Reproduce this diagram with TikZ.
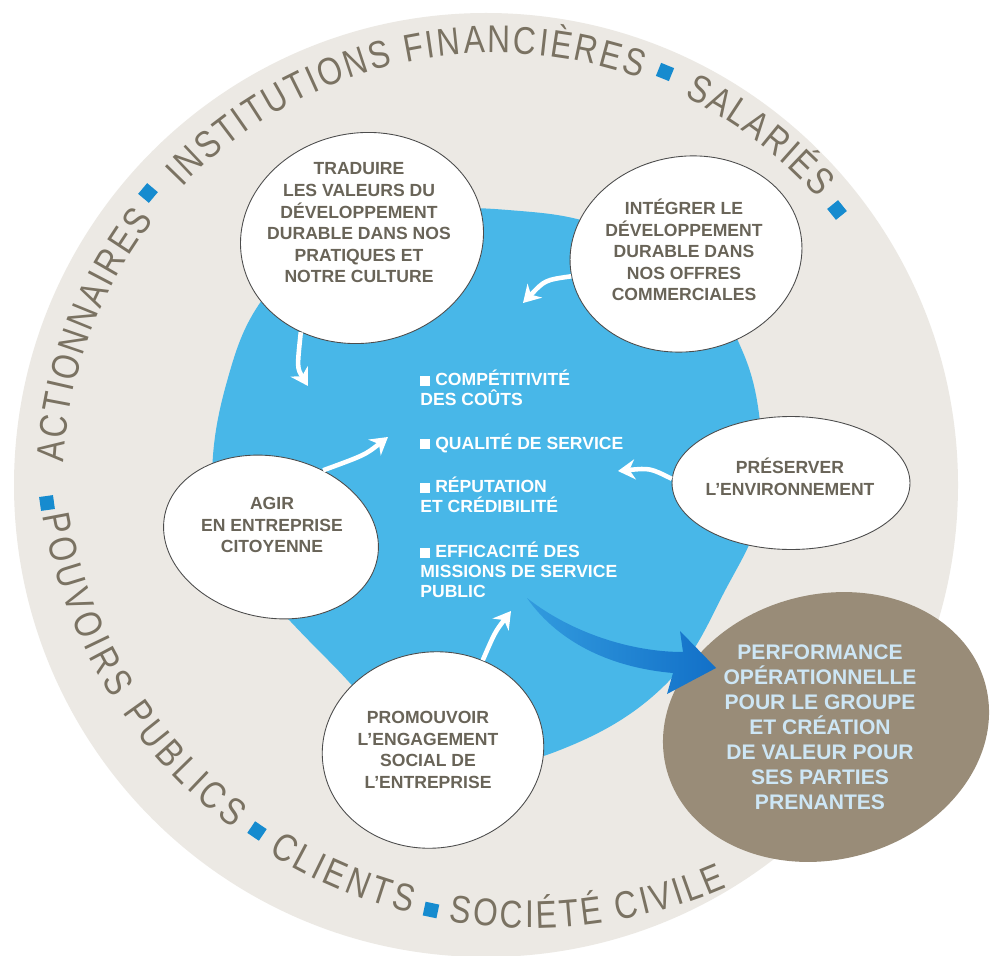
\documentclass[tikz,border=0pt]{standalone}
\usepackage{fontspec}
\setmainfont{Liberation Sans}
\newfontfamily\ringfam[FakeStretch=0.82]{Liberation Sans}
\usetikzlibrary{shapes.geometric,arrows.meta,decorations.text}

\definecolor{greybg}{RGB}{236,233,228}
\definecolor{skyblue}{RGB}{72,183,232}
\definecolor{ringtxt}{RGB}{122,114,98}
\definecolor{blobtxt}{RGB}{105,100,88}
\definecolor{ringblue}{RGB}{22,139,207}
\definecolor{taupe}{RGB}{153,140,120}
\definecolor{perftxt}{RGB}{205,230,245}
\definecolor{arrowdark}{RGB}{18,112,200}
\definecolor{arrowlight}{RGB}{50,155,222}

\newcommand{\bsq}{\rule{5.5pt}{5.5pt}\hspace{3pt}}

\tikzset{
  blob/.style={ellipse, draw=black!70, line width=0.5pt, fill=white, inner sep=0},
  blobtext/.style={font=\fontsize{10}{12.3}\selectfont\bfseries, text=blobtxt, align=center, inner sep=0},
  bluetext/.style={font=\fontsize{10}{11.4}\selectfont\bfseries, text=white, align=left, anchor=west, inner sep=0},
  perftext/.style={font=\fontsize{12}{14.2}\selectfont\bfseries, text=perftxt, align=center, inner sep=0},
  ringsq/.style={fill=ringblue, minimum size=0.28cm, inner sep=0},
  ringword/.style={decorate, decoration={text along path, text align={fit to path},
      text={|\ringfam\fontsize{22}{22}\selectfont\color{ringtxt}|#1}}},
  warrow/.style={white, line width=2.6pt, -{Stealth[length=0.34cm, width=0.4cm]}}
}

\begin{document}
\begin{tikzpicture}[x=0.02cm, y=-0.02cm]
  \useasboundingbox (0,0) rectangle (990,956);
  \fill[white] (0,0) rectangle (990,956);

  % stakeholders ring
  \fill[greybg] (486,485) circle[radius=472];

  % blue core
  \fill[skyblue] plot[smooth cycle, tension=0.7] coordinates {
    (212,480) (226,385) (262,300) (325,245) (415,214) (508,210) (610,230)
    (700,290) (742,350) (761,430) (760,510) (728,585) (665,685) (560,750)
    (470,762) (395,725) (330,662) (275,605) (225,550)};

  % the five actions
  \node[blob, minimum width=4.88cm, minimum height=4.2cm, rotate=10] (traduire) at (362,238) {};
  \node[blob, minimum width=4.66cm, minimum height=3.9cm, rotate=10] (integrer) at (686,254) {};
  \node[blob, minimum width=4.76cm, minimum height=2.66cm] (preserver) at (791,483) {};
  \node[blob, minimum width=4.34cm, minimum height=3.22cm, rotate=-12] (agir) at (271,537) {};
  \node[blob, minimum width=4.44cm, minimum height=3.92cm, rotate=8] (promouvoir) at (433,750) {};

  % result
  \node[ellipse, fill=taupe, minimum width=6.6cm, minimum height=5.3cm, rotate=15, inner sep=0] (perf) at (826,727) {};

  % big arrow to the result
  \coordinate (tail) at (527,598);
  \shade[left color=arrowlight, right color=arrowdark] (tail)
    .. controls (570,632) and (630,652) .. (683,652) -- (680,631) -- (716,668)
    -- (667,694) -- (673,673) .. controls (615,668) and (560,645) .. (tail) -- cycle;

  % white arrows into the core
  \coordinate (tipA) at (308,386);
  \coordinate (tipB) at (523,303);
  \coordinate (tipC) at (388,437);
  \coordinate (tipD) at (618,471);
  \coordinate (tipE) at (511,611);
  \draw[warrow] (traduire.227) .. controls (297,368) .. (tipA);
  \draw[warrow] (integrer.181) .. controls (545,280) .. (tipB);
  \draw[warrow] (agir.64) .. controls (365,455) .. (tipC);
  \draw[warrow] (preserver.178) .. controls (650,468) .. (tipD);
  \draw[warrow] (promouvoir.53) .. controls (495,632) .. (tipE);

  % texts
  \node[blobtext] (traduiretxt) at (359,223) {TRADUIRE\\LES VALEURS DU\\DÉVELOPPEMENT\\DURABLE DANS NOS\\PRATIQUES ET\\NOTRE CULTURE};
  \node[blobtext] (integrertxt) at (684,250) {INTÉGRER LE\\DÉVELOPPEMENT\\DURABLE DANS\\NOS OFFRES\\COMMERCIALES};
  \node[blobtext] (preservertxt) at (790,477) {PRÉSERVER\\L'ENVIRONNEMENT};
  \node[blobtext] (agirtxt) at (272,525) {AGIR\\EN ENTREPRISE\\CITOYENNE};
  \node[blobtext] (promouvoirtxt) at (428,750) {PROMOUVOIR\\L'ENGAGEMENT\\SOCIAL DE\\L'ENTREPRISE};

  \node[bluetext] (couts) at (420,388) {\bsq COMPÉTITIVITÉ\\DES COÛTS};
  \node[bluetext] (qualite) at (420,443) {\bsq QUALITÉ DE SERVICE};
  \node[bluetext] (reputation) at (420,495) {\bsq RÉPUTATION\\ET CRÉDIBILITÉ};
  \node[bluetext] (missions) at (420,570) {\bsq EFFICACITÉ DES\\MISSIONS DE SERVICE\\PUBLIC};

  \node[perftext] (perftxt) at (820,727) {PERFORMANCE\\OPÉRATIONNELLE\\POUR LE GROUPE\\ET CRÉATION\\DE VALEUR POUR\\SES PARTIES\\PRENANTES};

  % stakeholders on the ring
  \coordinate (ucen) at (495,485);
  \coordinate (lcen) at (530,434);
  \path[ringword=ACTIONNAIRES] (ucen) ++(-177:432) arc[start angle=-177, end angle=-142.2, radius=432];
  \path[ringword=INSTITUTIONS FINANCIÈRES] (ucen) ++(-136.4:432) arc[start angle=-136.4, end angle=-70.4, radius=432];
  \path[ringword=SALARIÉS] (ucen) ++(-64:432) arc[start angle=-64, end angle=-41.7, radius=432];
  \path[ringword=POUVOIRS PUBLICS] (lcen) ++(-189.5:494) arc[start angle=-189.5, end angle=-233, radius=494];
  \path[ringword=CLIENTS] (lcen) ++(-238:494) arc[start angle=-238, end angle=-256, radius=494];
  \path[ringword=SOCIÉTÉ CIVILE] (lcen) ++(-260.5:494) arc[start angle=-260.5, end angle=-293.5, radius=494];

  \node[ringsq, rotate=50] (sqa) at (148,193) {};
  \node[ringsq, rotate=-22] (sqb) at (665,72) {};
  \node[ringsq, rotate=-51] (sqc) at (837,210) {};
  \node[ringsq, rotate=8] (sqd) at (47,503) {};
  \node[ringsq, rotate=56] (sqe) at (257,831) {};
  \node[ringsq, rotate=-12] (sqf) at (431,910) {};
\end{tikzpicture}
\end{document}
